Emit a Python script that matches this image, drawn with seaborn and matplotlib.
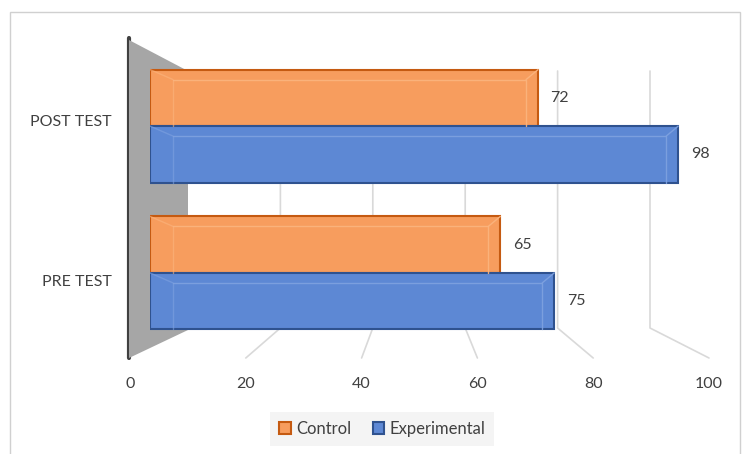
import pandas as pd
import numpy as np
import matplotlib.pyplot as plt
import seaborn as sns
from matplotlib.patches import Patch, Polygon, Rectangle
from matplotlib.lines import Line2D

# data
tests = ["POST TEST", "PRE TEST"]
control = [72, 65]
experimental = [98, 75]
groups = ["Control", "Experimental"]
tick_values = [0, 20, 40, 60, 80, 100]

colors = {"Control": "#F79D5E", "Experimental": "#5D88D4"}
edges = {"Control": "#C55A11", "Experimental": "#2F528F"}
inner = {"Control": "#FBB57F", "Experimental": "#7FA2E0"}

df = pd.DataFrame({
    "test": tests * 2,
    "group": ["Control"] * 2 + ["Experimental"] * 2,
    "score": control + experimental,
})

sns.set_style("white")
plt.rcParams["font.family"] = ["Lato", "DejaVu Sans"]

W, H = 742, 454
fig = plt.figure(figsize=(W / 100, H / 100), dpi=100)

def px(x, y):
    # pixel position (from top-left) -> figure fraction
    return (x / W, 1 - y / H)

# front plane: carries the tick labels (0 at x=130, 100 at x=709)
front = fig.add_axes([130 / W, 1 - 360 / H, 579 / W, 320 / H])
front.patch.set_alpha(0)
front.set_xlim(0, 100)
front.set_ylim(1.5, -0.5)
front.set_xticks(tick_values)
front.set_yticks(range(len(tests)))
front.set_yticklabels(tests)
front.tick_params(length=0, labelsize=11.5, labelcolor="#404040")
front.tick_params(axis="x", pad=12)
front.tick_params(axis="y", pad=13)
for s in front.spines.values():
    s.set_visible(False)

# bar plane (deeper in the 3-D box, so slightly narrower scale)
ax = fig.add_axes([150 / W, 1 - 361 / H, 539 / W, 323 / H])
ax.patch.set_alpha(0)

sns.barplot(data=df, y="test", x="score", hue="group", order=tests,
            hue_order=groups, palette=colors, width=0.77, orient="h",
            dodge=True, legend=False, ax=ax, saturation=1)

ax.set_xlim(0, 100)
ax.set_ylim(1.6, -0.6)
ax.set_xlabel("")
ax.set_ylabel("")
ax.set_xticks([])
ax.set_yticks([])
for s in ax.spines.values():
    s.set_visible(False)

# px per data unit on the bar plane
sx = 539 / 100
sy = 323 / 2.2
for cont, g in zip(ax.containers, groups):
    for bar in cont:
        bar.set_edgecolor(edges[g])
        bar.set_linewidth(1.5)
        x0, w = bar.get_x(), bar.get_width()
        y0, h = bar.get_y(), bar.get_height()
        # back-face outline to hint the 3-D box
        xl, xr = x0 + 23 / sx, x0 + w - 12 / sx
        yt = y0 + 10 / sy
        ax.plot([xl, xr, xr], [yt, yt, y0 + h], color=inner[g], lw=1, alpha=0.9)
        ax.plot([xl, xl], [yt, y0 + h], color=inner[g], lw=1, alpha=0.6)
        ax.plot([x0, xl], [y0, yt], color=inner[g], lw=1, alpha=0.6)
        ax.plot([x0 + w, xr], [y0, yt], color=inner[g], lw=1, alpha=0.9)
    ax.bar_label(cont, padding=9, fontsize=11.5, color="#404040")

# back wall gridlines with perspective run-out to the front
for u in tick_values[1:]:
    xb = 188 + 4.62 * u
    xf = 130 + 5.79 * u
    pts = [px(xb, 71), px(xb, 328), px(xf, 358)]
    fig.lines.append(Line2D([p[0] for p in pts], [p[1] for p in pts],
                            transform=fig.transFigure, color="#D9D9D9",
                            lw=1.2, zorder=-2))

# side wall
wall = Polygon([px(129, 40), px(188, 71), px(188, 330), px(129, 358)],
               closed=True, transform=fig.transFigure, facecolor="#A6A6A6",
               edgecolor="none", zorder=-1)
fig.patches.append(wall)
fig.lines.append(Line2D([129 / W, 129 / W], [1 - 38 / H, 1 - 358 / H],
                        transform=fig.transFigure, color="#404040", lw=3,
                        zorder=-1))

# chart border
fig.patches.append(Rectangle(px(10, 470), 730 / W, 458 / H,
                             transform=fig.transFigure, fill=False,
                             edgecolor="#D0D0D0", lw=1, zorder=-3))

handles = [Patch(facecolor=colors[g], edgecolor=edges[g], lw=1.5, label=g)
           for g in groups]
leg = fig.legend(handles=handles, loc="center", bbox_to_anchor=(0.515, 0.055),
                 ncol=2, frameon=True, fontsize=12, handlelength=0.7,
                 handleheight=0.7, handletextpad=0.3, columnspacing=1.3,
                 borderpad=0.55, borderaxespad=0, fancybox=False)
leg.get_frame().set_facecolor("#F2F2F2")
leg.get_frame().set_edgecolor("none")
for t in leg.get_texts():
    t.set_color("#404040")

fig.savefig("out.png", dpi=100)
